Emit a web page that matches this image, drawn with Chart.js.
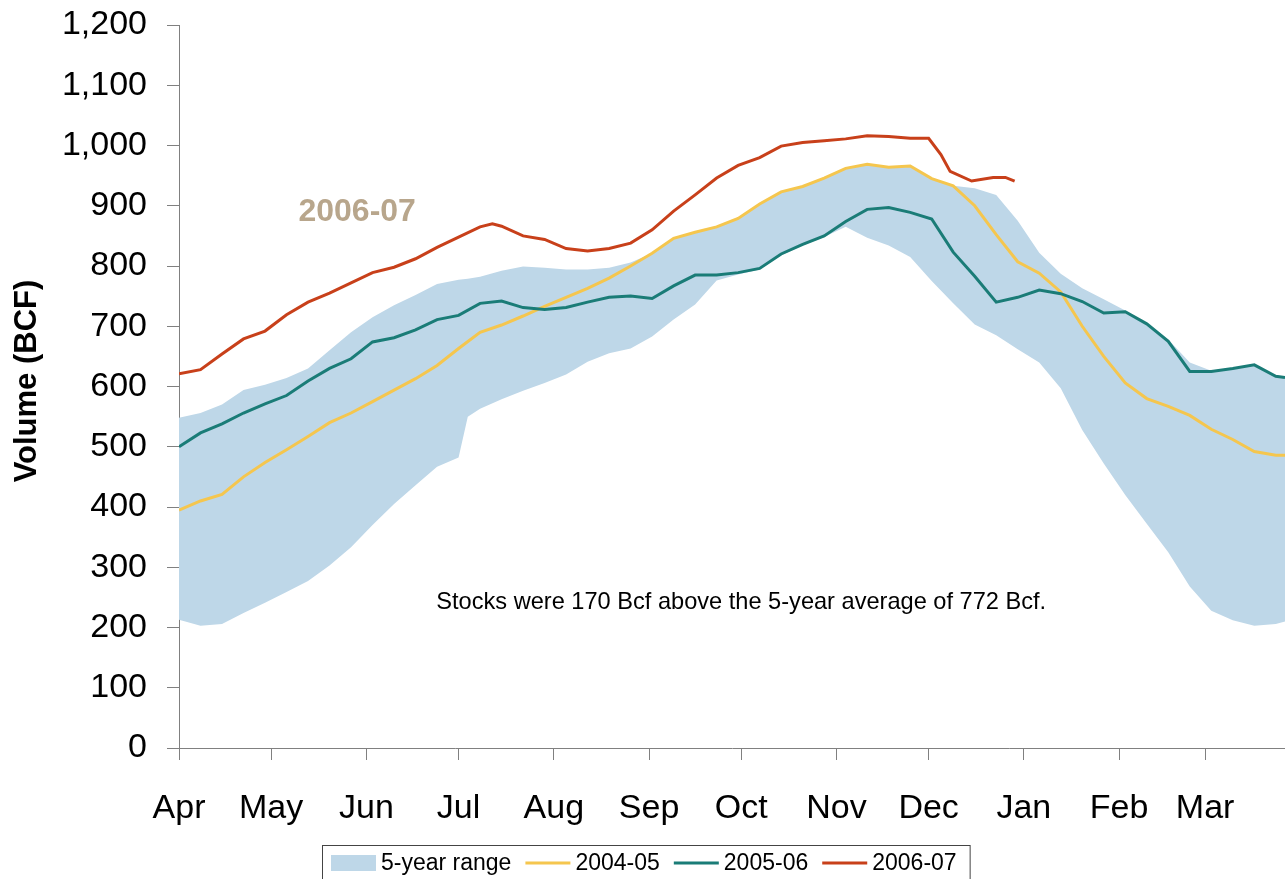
<!DOCTYPE html>
<html>
<head>
<meta charset="utf-8">
<script src="https://cdn.jsdelivr.net/npm/chart.js@4.4.1/dist/chart.umd.min.js"></script>
<style>
  html, body { margin: 0; padding: 0; background: #fff; }
  #wrap { width: 1285px; height: 879px; overflow: hidden; }
</style>
</head>
<body>
<div id="wrap"><canvas id="c" width="1285" height="879"></canvas></div>
<script>
// ---- data (x = days since Apr 1) ----
const MONTH_DAYS   = [0, 30, 61, 91, 122, 153, 183, 214, 244, 275, 306, 334];
const MONTH_LABELS = ['Apr','May','Jun','Jul','Aug','Sep','Oct','Nov','Dec','Jan','Feb','Mar'];
const Y_TICKS = [0,100,200,300,400,500,600,700,800,900,1000,1100,1200];

const LINE_DAYS = [0,7,14,21,28,35,42,49,56,63,70,77,84,91,98,105,112,119,126,133,140,147,154,161,168,175,182,189,196,203,210,217,224,231,238,245,252,259,266,273,280,287,294,301,308,315,322,329,336,343,350,357,360];

const S2004_05 = [395,410,421,450,474,495,517,540,556,575,594,613,635,663,690,702,717,733,748,763,780,800,821,846,856,865,879,903,923,932,946,962,969,964,966,945,933,900,852,807,788,757,700,650,606,580,567,552,529,512,492,486,486];

const S2005_06 = [500,523,538,556,571,585,609,630,646,674,681,694,711,718,738,742,731,728,731,740,748,750,746,767,785,785,789,796,820,836,850,874,894,897,889,878,823,783,740,748,760,754,741,722,724,704,675,625,625,630,636,617,615];

const RED_DAYS = [0,7,14,21,28,35,42,49,56,63,70,77,84,91,98,102,105,112,119,126,133,140,147,154,161,168,175,182,189,196,203,210,217,224,231,238,244,248,251,258,265,269,272];
const S2006_07 = [621,628,654,679,692,719,740,755,772,789,798,812,831,848,865,870,866,850,844,829,825,829,838,860,891,918,946,967,980,999,1005,1008,1011,1016,1015,1012,1012,985,957,941,947,947,941];

const BAND_DAYS = [0,7,14,21,28,35,42,49,56,63,70,77,84,91,94,98,105,112,119,126,133,140,147,154,161,168,175,182,189,196,203,210,217,224,231,238,245,252,259,266,273,280,287,294,301,308,315,322,329,336,343,350,357,360];
const BAND_HIGH = [548,556,570,594,603,614,630,660,690,715,735,752,770,777,779,782,792,799,797,794,794,797,806,821,846,856,865,879,903,923,932,946,962,969,964,966,945,933,929,918,875,822,787,763,745,726,706,678,640,626,631,636,617,615];
const BAND_LOW  = [213,203,206,224,241,259,277,303,333,370,405,436,467,482,550,563,579,593,606,620,641,655,663,683,711,736,776,786,794,818,834,848,865,847,834,815,775,738,703,685,662,640,597,528,472,420,372,325,268,228,212,203,206,210];

const Y_TITLE = 'Volume (BCF)';
const ANNOTATION = 'Stocks were 170 Bcf above the 5-year average of 772 Bcf.';
const SERIES_LABEL = '2006-07';

// ---- styles ----
const FONT = "'Liberation Sans', Arial, sans-serif";
const C_BAND = '#BED7E8', C_Y = '#F5C64E', C_T = '#1A7C77', C_R = '#C8401A';

const pts = (xs, ys) => xs.map((x, i) => ({x: x, y: ys[i]}));

const overlay = {
  id: 'overlay',
  afterDraw(chart) {
    const ctx = chart.ctx, sx = chart.scales.x, sy = chart.scales.y;
    ctx.save();
    // y axis title
    ctx.save();
    ctx.translate(27, 381);
    ctx.rotate(-Math.PI / 2);
    ctx.font = "bold 31px " + FONT;
    ctx.fillStyle = '#000';
    ctx.textAlign = 'center'; ctx.textBaseline = 'middle';
    ctx.fillText(Y_TITLE, 0, 0);
    ctx.restore();
    // series label
    ctx.font = "bold 32px " + FONT;
    ctx.fillStyle = '#B8A68C';
    ctx.textAlign = 'center'; ctx.textBaseline = 'middle';
    ctx.fillText(SERIES_LABEL, sx.getPixelForValue(58), sy.getPixelForValue(890));
    // annotation
    ctx.font = "23.6px " + FONT;
    ctx.fillStyle = '#000';
    ctx.fillText(ANNOTATION, sx.getPixelForValue(183), sy.getPixelForValue(241));
    // legend
    const items = [
      {label: chart.data.datasets[3].label, color: C_BAND, type: 'box'},
      {label: chart.data.datasets[2].label, color: C_Y, type: 'line'},
      {label: chart.data.datasets[1].label, color: C_T, type: 'line'},
      {label: chart.data.datasets[0].label, color: C_R, type: 'line'}
    ];
    ctx.font = "23px " + FONT;
    ctx.textAlign = 'left'; ctx.textBaseline = 'middle';
    let x = 331; const cy = 863;
    items.forEach((it, i) => {
      if (it.type === 'box') { ctx.fillStyle = it.color; ctx.fillRect(x, cy - 8, 45, 16); }
      else { ctx.strokeStyle = it.color; ctx.lineWidth = 3; ctx.beginPath(); ctx.moveTo(x, cy); ctx.lineTo(x + 45, cy); ctx.stroke(); }
      x += 50;
      ctx.fillStyle = '#000';
      ctx.fillText(it.label, x, cy + 1);
      x += ctx.measureText(it.label).width + (i < items.length - 1 ? 14 : 13);
    });
    ctx.strokeStyle = '#444'; ctx.lineWidth = 1;
    ctx.strokeRect(322.5, 845.5, x - 322, 60);
    ctx.restore();
  }
};

new Chart(document.getElementById('c'), {
  type: 'line',
  data: {
    datasets: [
      {label: '2006-07', data: pts(RED_DAYS, S2006_07), borderColor: C_R, borderWidth: 3, pointRadius: 0, fill: false, tension: 0},
      {label: '2005-06', data: pts(LINE_DAYS, S2005_06), borderColor: C_T, borderWidth: 3, pointRadius: 0, fill: false, tension: 0},
      {label: '2004-05', data: pts(LINE_DAYS, S2004_05), borderColor: C_Y, borderWidth: 3, pointRadius: 0, fill: false, tension: 0},
      {label: '5-year range', data: pts(BAND_DAYS, BAND_HIGH), borderWidth: 0, borderColor: C_BAND, backgroundColor: C_BAND, pointRadius: 0, fill: 4, tension: 0},
      {label: '5-year range (low)', data: pts(BAND_DAYS, BAND_LOW), borderWidth: 0, borderColor: C_BAND, backgroundColor: C_BAND, pointRadius: 0, fill: false, tension: 0}
    ]
  },
  options: {
    responsive: false,
    animation: false,
    devicePixelRatio: 1,
    layout: {padding: {left: 10, right: 0, top: 25, bottom: 31}},
    plugins: {legend: {display: false}, tooltip: {enabled: false}},
    scales: {
      x: {
        type: 'linear', min: 0, max: 360,
        afterBuildTicks: s => { s.ticks = MONTH_DAYS.map(v => ({value: v})); },
        afterFit: s => { s.height = 100; s.paddingLeft = 0; s.paddingRight = 0; },
        grid: {drawOnChartArea: false, drawTicks: true, tickLength: 12, color: '#808080'},
        border: {color: '#808080', width: 1},
        ticks: {
          autoSkip: false, maxRotation: 0, padding: 28, color: '#000',
          font: {size: 34, family: FONT},
          callback: v => MONTH_LABELS[MONTH_DAYS.indexOf(v)]
        }
      },
      y: {
        min: 0, max: 1200,
        afterBuildTicks: s => { s.ticks = Y_TICKS.map(v => ({value: v})); },
        afterFit: s => { s.width = 169; s.paddingTop = 0; s.paddingBottom = 0; },
        grid: {drawOnChartArea: false, drawTicks: true, tickLength: 12, color: '#808080'},
        border: {color: '#808080', width: 1},
        ticks: {
          padding: 20, color: '#000', font: {size: 34, family: FONT},
          callback: v => v.toLocaleString('en-US')
        }
      }
    }
  },
  plugins: [overlay]
});
</script>
</body>
</html>
